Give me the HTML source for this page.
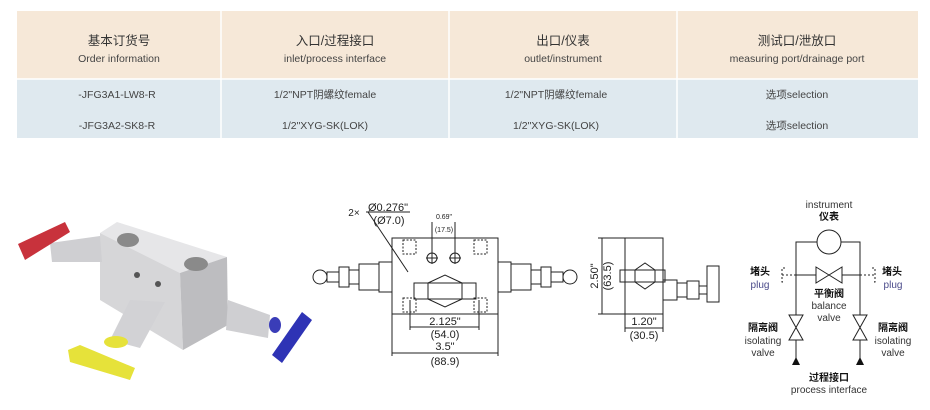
<!DOCTYPE html>
<html><head><meta charset="utf-8">
<style>
html,body{margin:0;padding:0;background:#fff;}
body{width:930px;height:405px;position:relative;overflow:hidden;font-family:"Liberation Sans","Noto Sans CJK SC",sans-serif;}
</style></head>
<body>
<svg width="930" height="405" viewBox="0 0 930 405" xmlns="http://www.w3.org/2000/svg" font-family="Liberation Sans, Noto Sans CJK SC, sans-serif">
<!-- table -->
<rect x="17" y="11" width="901" height="127" fill="#dfe9ef"/>
<rect x="17" y="11" width="901" height="68" fill="#f6e8d8"/>
<g stroke="#ffffff" stroke-width="1.5">
<line x1="221" y1="11" x2="221" y2="138"/><line x1="449" y1="11" x2="449" y2="138"/><line x1="677" y1="11" x2="677" y2="138"/>
<line x1="17" y1="79" x2="918" y2="79"/>
</g>
<g fill="#333" text-anchor="middle" font-size="12.5">
<text x="119" y="45">基本订货号</text><text x="335" y="45">入口/过程接口</text><text x="563" y="45">出口/仪表</text><text x="797" y="45">测试口/泄放口</text>
</g>
<g fill="#444" text-anchor="middle" font-size="10.5">
<text x="119" y="62">Order information</text><text x="335" y="62">inlet/process interface</text><text x="563" y="62">outlet/instrument</text><text x="797" y="62">measuring port/drainage port</text>
<text x="117" y="98">-JFG3A1-LW8-R</text><text x="325" y="98">1/2"NPT阴螺纹female</text><text x="556" y="98">1/2"NPT阴螺纹female</text><text x="797" y="98">选项selection</text>
<text x="117" y="129">-JFG3A2-SK8-R</text><text x="325" y="129">1/2"XYG-SK(LOK)</text><text x="556" y="129">1/2"XYG-SK(LOK)</text><text x="797" y="129">选项selection</text>
</g>

<!-- photo -->
<g>
<polygon points="100,233 117,222 227,257 180,273" fill="#e6e6e8"/>
<polygon points="100,233 180,273 183,350 100,300" fill="#d6d6d8"/>
<polygon points="180,273 227,257 228,325 183,350" fill="#bdbdc0"/>
<ellipse cx="128" cy="240" rx="11" ry="7" fill="#8a8a8a"/>
<ellipse cx="196" cy="264" rx="12" ry="7" fill="#8a8a8a"/>
<circle cx="137" cy="275" r="3" fill="#555"/><circle cx="158" cy="284" r="3" fill="#555"/>
<polygon points="50,243 100,236 102,262 52,262" fill="#cfcfd2"/>
<polygon points="18,244 65,222 70,232 25,260" fill="#c8323c"/>
<polygon points="130,300 165,302 140,348 110,340" fill="#d2d2d5"/>
<polygon points="68,350 80,345 135,368 130,380 70,362" fill="#e6e23a"/>
<ellipse cx="116" cy="342" rx="12" ry="6" fill="#e6e23a"/>
<polygon points="228,300 270,315 268,338 226,330" fill="#cfcfd2"/>
<ellipse cx="275" cy="325" rx="6" ry="8" fill="#3a3db8"/>
<polygon points="272,355 302,312 312,320 282,363" fill="#2e33b5"/>
</g>

<!-- front view drawing -->
<g stroke="#222" fill="none" stroke-width="1">
<rect x="392" y="238" width="106" height="76"/>
<circle cx="320" cy="277" r="7"/>
<rect x="327" y="272" width="12" height="10"/><rect x="339" y="267" width="10" height="20"/>
<rect x="349" y="270" width="10" height="14"/><rect x="359" y="264" width="20" height="26"/><rect x="379" y="262" width="13" height="30"/>
<circle cx="570" cy="277" r="7"/>
<rect x="551" y="272" width="12" height="10"/><rect x="541" y="267" width="10" height="20"/>
<rect x="531" y="270" width="10" height="14"/><rect x="511" y="264" width="20" height="26"/><rect x="498" y="262" width="13" height="30"/>
<rect x="414" y="283" width="62" height="16"/>
<polygon points="428,283 445,275 462,283 462,299 445,307 428,299"/>
<circle cx="432" cy="258" r="5"/><circle cx="455" cy="258" r="5"/>
<line x1="426" y1="258" x2="438" y2="258"/><line x1="432" y1="252" x2="432" y2="264"/>
<line x1="449" y1="258" x2="461" y2="258"/><line x1="455" y1="252" x2="455" y2="264"/>
<g stroke-dasharray="2,1.5"><rect x="403" y="240" width="13" height="14"/><rect x="474" y="240" width="13" height="14"/><rect x="403" y="298" width="13" height="14"/><rect x="474" y="298" width="13" height="14"/></g>
<line x1="368" y1="212" x2="408" y2="272"/>
<line x1="432" y1="222" x2="432" y2="252"/><line x1="455" y1="222" x2="455" y2="252"/>
<line x1="410" y1="300" x2="410" y2="330"/><line x1="479" y1="300" x2="479" y2="330"/>
<line x1="410" y1="327" x2="479" y2="327"/>
<line x1="392" y1="314" x2="392" y2="356"/><line x1="498" y1="314" x2="498" y2="356"/>
<line x1="392" y1="353" x2="498" y2="353"/>
<line x1="366" y1="212" x2="410" y2="212"/>
</g>
<g fill="#222" font-size="11" text-anchor="middle">
<text x="388" y="211">Ø0.276"</text><text x="354" y="216" font-size="10">2×</text><text x="389" y="224">(Ø7.0)</text>
<text x="444" y="219" font-size="7">0.69"</text><text x="444" y="232" font-size="7">(17.5)</text>
<text x="445" y="325">2.125"</text><text x="445" y="338">(54.0)</text>
<text x="445" y="350">3.5"</text><text x="445" y="365">(88.9)</text>
</g>

<!-- side view -->
<g stroke="#222" fill="none" stroke-width="1">
<rect x="625" y="238" width="38" height="76"/>
<line x1="598" y1="238" x2="625" y2="238"/><line x1="598" y1="314" x2="625" y2="314"/>
<line x1="602" y1="238" x2="602" y2="314"/>
<line x1="625" y1="314" x2="625" y2="332"/><line x1="663" y1="314" x2="663" y2="332"/>
<line x1="625" y1="328" x2="663" y2="328"/>
<rect x="620" y="270" width="45" height="12"/>
<polygon points="635,270 645,263 655,270 655,282 645,289 635,282"/>
<rect x="663" y="280" width="14" height="20"/><rect x="677" y="283" width="10" height="14"/>
<rect x="687" y="281" width="12" height="18"/><rect x="699" y="286" width="8" height="8"/>
<rect x="707" y="266" width="12" height="36" fill="#fff"/>
</g>
<g fill="#222" font-size="11" text-anchor="middle">
<text transform="translate(598,276) rotate(-90)">2.50"</text>
<text transform="translate(611,276) rotate(-90)">(63.5)</text>
<text x="644" y="325">1.20"</text><text x="644" y="339">(30.5)</text>
</g>

<!-- schematic -->
<g stroke="#222" fill="none" stroke-width="1">
<circle cx="829" cy="242" r="12"/>
<polyline points="796,360 796,242 817,242"/><polyline points="841,242 860,242 860,360"/>
<line x1="796" y1="275" x2="816" y2="275"/><line x1="842" y1="275" x2="860" y2="275"/>
<polygon points="816,267 842,283 842,267 816,283"/>
<line x1="782" y1="275" x2="796" y2="275" stroke-dasharray="2,2"/><line x1="860" y1="275" x2="875" y2="275" stroke-dasharray="2,2"/>
<polyline points="785,268 782,268 782,282 785,282" stroke-dasharray="2,2"/>
<polyline points="872,268 875,268 875,282 872,282" stroke-dasharray="2,2"/>
<polygon points="789,315 803,340 789,340 803,315" fill="#fff"/>
<polygon points="853,315 867,340 853,340 867,315" fill="#fff"/>
</g>
<polygon points="792,365 800,365 796,357" fill="#111"/><polygon points="856,365 864,365 860,357" fill="#111"/>
<g font-size="10" text-anchor="middle" fill="#333">
<text x="829" y="208">instrument</text>
<text x="829" y="220" font-weight="bold" fill="#111">仪表</text>
<text x="760" y="275" font-weight="bold" fill="#111">堵头</text><text x="760" y="288" fill="#4a4a8a">plug</text>
<text x="892" y="275" font-weight="bold" fill="#111">堵头</text><text x="893" y="288" fill="#4a4a8a">plug</text>
<text x="829" y="297" font-weight="bold" fill="#111">平衡阀</text><text x="829" y="309">balance</text><text x="829" y="321">valve</text>
<text x="763" y="331" font-weight="bold" fill="#111">隔离阀</text><text x="763" y="344">isolating</text><text x="763" y="356">valve</text>
<text x="893" y="331" font-weight="bold" fill="#111">隔离阀</text><text x="893" y="344">isolating</text><text x="893" y="356">valve</text>
<text x="829" y="381" font-weight="bold" fill="#111">过程接口</text><text x="829" y="393">process interface</text>
</g>
</svg>
</body></html>
